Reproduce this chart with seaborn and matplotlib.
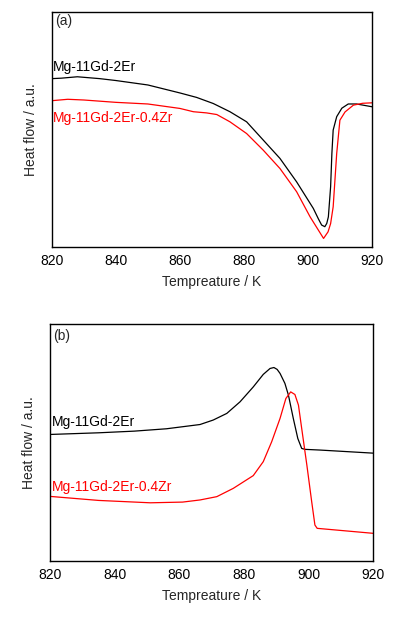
import matplotlib
matplotlib.use("Agg")
import matplotlib.pyplot as plt
import seaborn as sns
import pandas as pd

# ---- data (arbitrary heat-flow units) ----
a_black_T = [820, 823, 828, 835, 840, 850, 860, 865.2, 870.4, 875.6, 880.8, 886.0, 891.2, 896.4, 901.6, 903.2, 904.2, 905.2, 905.8, 906.3, 907.0, 907.4, 907.8, 908.9, 910.5, 912.5, 915.1, 920]
a_black_V = [71.8, 72.0, 72.6, 71.8, 71.0, 69.1, 65.7, 63.8, 61.2, 57.7, 53.4, 45.6, 37.8, 27.8, 16.5, 12.0, 9.4, 8.7, 10.1, 12.9, 25.7, 40.0, 49.9, 55.6, 59.2, 61.0, 61.0, 59.8]

a_red_T = [820, 825, 830, 840, 850, 860, 864.2, 868.3, 871.5, 875.6, 880.8, 886.0, 891.2, 896.4, 900.6, 903.2, 904.8, 906.2, 907.0, 907.8, 908.9, 909.9, 911.5, 914.1, 917, 920]
a_red_V = [62.4, 63.0, 62.7, 61.7, 61.0, 59.1, 57.7, 57.2, 56.5, 53.4, 48.4, 41.3, 33.5, 23.6, 12.9, 7.2, 3.7, 6.5, 10.0, 17.2, 39.9, 54.1, 57.6, 60.5, 61.3, 61.5]

b_black_T = [820, 835, 846, 856, 866.4, 870.5, 874.7, 878.8, 882.9, 886.0, 888.1, 889.3, 890.3, 891.2, 892.7, 893.8, 895.3, 896.7, 897.9, 898.9, 903.6, 920]
b_black_V = [53.5, 54.2, 54.9, 55.9, 57.7, 59.6, 62.4, 67.3, 73.6, 78.9, 81.4, 81.8, 81.0, 79.3, 75.1, 70.1, 60.3, 51.8, 47.6, 47.2, 46.9, 45.6]

b_red_T = [820, 835, 851, 861, 866.4, 871.6, 876.7, 882.9, 886.0, 888.6, 891.2, 893.0, 894.5, 895.8, 896.9, 897.9, 899.5, 901.0, 902.0, 902.7, 920]
b_red_V = [27.3, 25.6, 24.6, 24.9, 25.8, 27.2, 30.7, 36.1, 42.0, 50.4, 60.3, 68.7, 71.5, 70.4, 65.9, 56.1, 40.6, 25.1, 15.2, 13.8, 11.7]

alloys = ["Mg-11Gd-2Er", "Mg-11Gd-2Er-0.4Zr"]
panel_labels = ["(a)", "(b)"]
x_ticks = [820, 840, 860, 880, 900, 920]
x_label = "Tempreature / K"
y_label = "Heat flow / a.u."

sns.set_style("white")
plt.rcParams["font.family"] = ["Liberation Sans", "DejaVu Sans"]

fig = plt.figure(figsize=(3.95, 6.24), dpi=100)
ax_a = fig.add_axes([0.1309, 0.604, 0.8116, 0.376])
ax_b = fig.add_axes([0.1273, 0.101, 0.8170, 0.379])

colors = ["black", "red"]
panels = [
    (ax_a, [(a_black_T, a_black_V), (a_red_T, a_red_V)], [0.767, 0.550], 0.963),
    (ax_b, [(b_black_T, b_black_V), (b_red_T, b_red_V)], [0.588, 0.313], 0.951),
]

for i, (ax, series, label_y, tag_y) in enumerate(panels):
    for j, (T, V) in enumerate(series):
        df = pd.DataFrame({"T": T, "V": V})
        sns.lineplot(data=df, x="T", y="V", ax=ax, color=colors[j], lw=0.9,
                     sort=False, estimator=None)
        ax.text(0.005, label_y[j], alloys[j], transform=ax.transAxes,
                color=colors[j], fontsize=10, ha="left", va="center")
    ax.text(0.01, tag_y, panel_labels[i], transform=ax.transAxes,
            fontsize=10, ha="left", va="center")
    ax.set_xlim(820, 920)
    ax.set_ylim(0, 100)
    ax.set_xticks(x_ticks)
    ax.set_xticklabels([str(t) for t in x_ticks], fontsize=10)
    ax.set_yticks([])
    ax.tick_params(axis="x", direction="in", length=4, width=0.9, pad=5, colors="black")
    ax.set_xlabel(x_label, fontsize=10, labelpad=5)
    ax.set_ylabel(y_label, fontsize=10, labelpad=10)
    for s in ax.spines.values():
        s.set_color("black")
        s.set_linewidth(1.0)

fig.savefig("out.png", dpi=100)
